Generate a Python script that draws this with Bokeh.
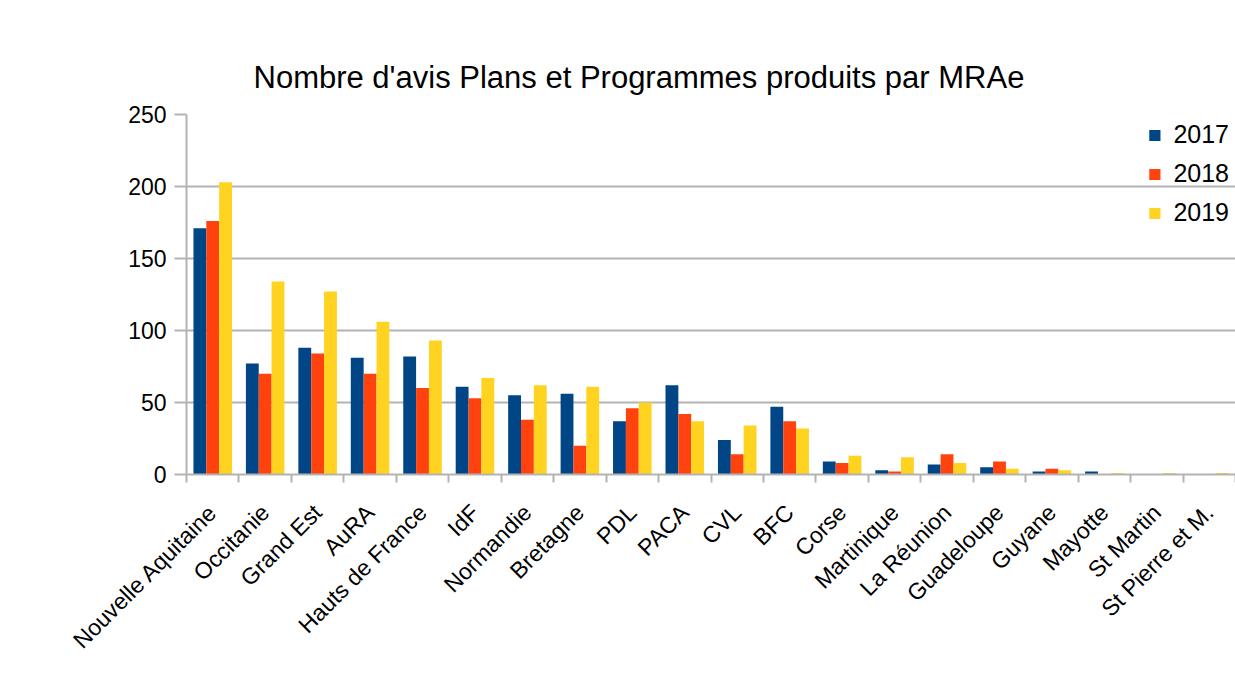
import math
from bokeh.plotting import figure
from bokeh.models import (Range1d, LinearAxis, FixedTicker, Legend, LegendItem, ColumnDataSource)
from bokeh.transform import dodge
from bokeh.embed import file_html
from bokeh.resources import INLINE

regions = ["Nouvelle Aquitaine", "Occitanie", "Grand Est", "AuRA", "Hauts de France", "IdF",
           "Normandie", "Bretagne", "PDL", "PACA", "CVL", "BFC", "Corse", "Martinique",
           "La Réunion", "Guadeloupe", "Guyane", "Mayotte", "St Martin", "St Pierre et M."]
v2017 = [171, 77, 88, 81, 82, 61, 55, 56, 37, 62, 24, 47, 9, 3, 7, 5, 2, 2, 0, 0]
v2018 = [176, 70, 84, 70, 60, 53, 38, 20, 46, 42, 14, 37, 8, 2, 14, 9, 4, 0, 0, 0]
v2019 = [203, 134, 127, 106, 93, 67, 62, 61, 50, 37, 34, 32, 13, 12, 8, 4, 3, 1, 1, 1]
years = ["2017", "2018", "2019"]
colors = ["#004586", "#ff420e", "#ffd320"]
y_ticks = [0, 50, 100, 150, 200, 250]
title_text = "Nombre d'avis Plans et Programmes produits par MRAe"

FONT = "Liberation Sans"
GRAY = "#b3b3b3"
n = len(regions)
centers = [i + 0.5 for i in range(n)]          # category slot centres
bounds = list(range(n + 1))                     # category slot boundaries

source = ColumnDataSource(dict(xc=centers, region=regions, y2017=v2017, y2018=v2018, y2019=v2019))

p = figure(width=1235, height=681, output_backend="svg", toolbar_location=None,
           x_range=Range1d(0, n), y_range=Range1d(0, 250),
           x_axis_location=None, min_border_left=186, min_border_right=0,
           min_border_top=114, min_border_bottom=207)

p.title.text = title_text
p.title.text_font = FONT
p.title.text_font_size = "31px"
p.title.text_font_style = "normal"
p.title.text_color = "#000000"
p.title.align = "left"
p.title.offset = 67
p.title.standoff = 39

p.outline_line_color = None
p.xgrid.grid_line_color = None
p.ygrid.grid_line_color = GRAY
p.ygrid.grid_line_width = 2
p.ygrid.ticker = FixedTicker(ticks=y_ticks)

w = 0.245
renderers = []
for i, (yr, col) in enumerate(zip(years, colors)):
    r = p.vbar(x=dodge("xc", (i - 1) * w), top="y" + yr, width=w,
               source=source, fill_color=col, line_color=None)
    renderers.append(r)

# y axis
yax = p.yaxis[0]
yax.ticker = FixedTicker(ticks=y_ticks)
yax.axis_line_color = GRAY
yax.axis_line_width = 2
yax.major_tick_line_color = GRAY
yax.major_tick_line_width = 2
yax.major_tick_out = 12
yax.major_tick_in = 0
yax.minor_tick_line_color = None
yax.major_label_text_font = FONT
yax.major_label_text_font_size = "23px"
yax.major_label_text_color = "#000000"
yax.major_label_standoff = 8

# x axis: names centred in each slot, tick marks on slot boundaries
x_axis = LinearAxis(ticker=FixedTicker(ticks=centers, minor_ticks=bounds),
                    major_label_overrides={c: name for c, name in zip(centers, regions)},
                    axis_line_color=GRAY, axis_line_width=2,
                    major_tick_line_color=None, major_tick_out=0, major_tick_in=0,
                    minor_tick_line_color=GRAY, minor_tick_line_width=2,
                    minor_tick_out=8, minor_tick_in=0,
                    major_label_orientation=math.pi / 4,
                    major_label_text_font=FONT, major_label_text_font_size="23px",
                    major_label_text_color="#000000", major_label_standoff=26)
p.add_layout(x_axis, "below")

legend = Legend(items=[LegendItem(label=yr, renderers=[r]) for yr, r in zip(years, renderers)],
                location="top_right", background_fill_alpha=0, border_line_alpha=0,
                glyph_width=14, glyph_height=14, label_height=28, spacing=10,
                label_text_font=FONT, label_text_font_size="25px", label_text_color="#000000",
                margin=0, padding=6, label_standoff=12)
p.add_layout(legend)

open("out.html", "w").write(file_html(p, INLINE))
